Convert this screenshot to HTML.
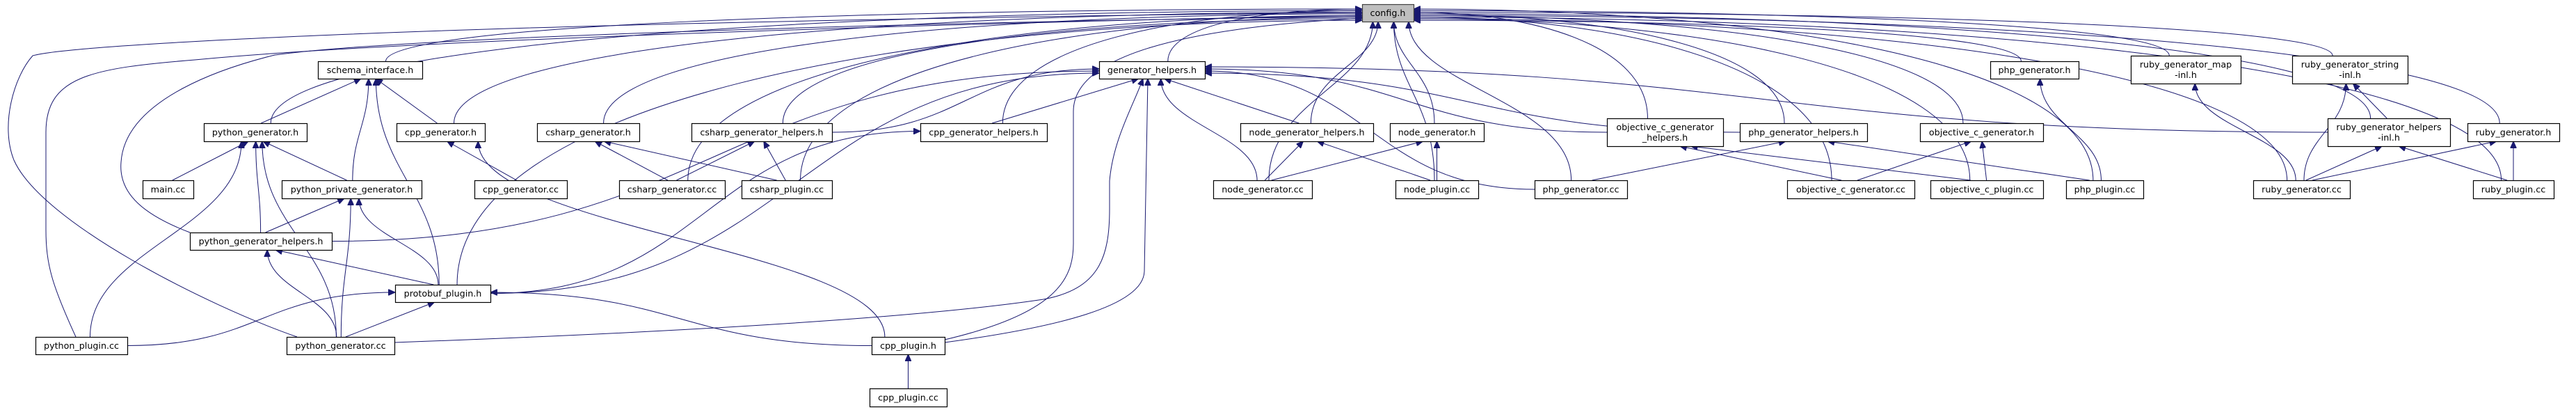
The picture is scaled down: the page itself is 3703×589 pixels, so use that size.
<!DOCTYPE html>
<html><head><meta charset="utf-8"><style>
html,body{margin:0;padding:0;background:#fff}
svg{display:block}
text{font-family:"DejaVu Sans","Liberation Sans",sans-serif;font-size:12.7px;fill:#000;text-anchor:middle}
</style></head><body>
<svg id="g" width="3703" height="589" viewBox="0 0 3703 589" xmlns="http://www.w3.org/2000/svg">
<defs><marker id="a" markerUnits="userSpaceOnUse" markerWidth="11" markerHeight="9" refX="10" refY="4.5" orient="auto"><path d="M0,0 L10,4.5 L0,9 z" fill="#191970" stroke="#191970"/></marker></defs>
<g id="edges" fill="none" stroke="#191970" stroke-width="1"></g>
<g id="boxes"></g>
<g id="labels">
<text x="1995" y="23">config.h</text>
<text x="532" y="105">schema_interface.h</text>
<text x="1656" y="105">generator_helpers.h</text>
<text x="2924.5" y="105">php_generator.h</text>
<text x="3142" y="97">ruby_generator_map</text><text x="3142" y="112">-inl.h</text>
<text x="3378" y="97">ruby_generator_string</text><text x="3378" y="112">-inl.h</text>
<text x="367" y="194.5">python_generator.h</text>
<text x="633.5" y="194.5">cpp_generator.h</text>
<text x="845.5" y="194.5">csharp_generator.h</text>
<text x="1095" y="194.5">csharp_generator_helpers.h</text>
<text x="1414" y="194.5">cpp_generator_helpers.h</text>
<text x="1878.5" y="194.5">node_generator_helpers.h</text>
<text x="2065.5" y="194.5">node_generator.h</text>
<text x="2393.5" y="187">objective_c_generator</text><text x="2393.5" y="202">_helpers.h</text>
<text x="2592.5" y="194.5">php_generator_helpers.h</text>
<text x="2848.5" y="194.5">objective_c_generator.h</text>
<text x="3434" y="187">ruby_generator_helpers</text><text x="3434" y="202">-inl.h</text>
<text x="3613" y="194.5">ruby_generator.h</text>
<text x="241.5" y="276.5">main.cc</text>
<text x="505.5" y="276.5">python_private_generator.h</text>
<text x="748.5" y="276.5">cpp_generator.cc</text>
<text x="966" y="276.5">csharp_generator.cc</text>
<text x="1131" y="276.5">csharp_plugin.cc</text>
<text x="1815" y="276.5">node_generator.cc</text>
<text x="2065.5" y="276.5">node_plugin.cc</text>
<text x="2272.5" y="276.5">php_generator.cc</text>
<text x="2660.5" y="276.5">objective_c_generator.cc</text>
<text x="2856" y="276.5">objective_c_plugin.cc</text>
<text x="3025.5" y="276.5">php_plugin.cc</text>
<text x="3308.5" y="276.5">ruby_generator.cc</text>
<text x="3613" y="276.5">ruby_plugin.cc</text>
<text x="375" y="351">python_generator_helpers.h</text>
<text x="636.5" y="426">protobuf_plugin.h</text>
<text x="117" y="501">python_plugin.cc</text>
<text x="489.5" y="501">python_generator.cc</text>
<text x="1305.5" y="501">cpp_plugin.h</text>
<text x="1305.5" y="575.5">cpp_plugin.cc</text>
</g>
</svg>
<script>
const N={config:[1958,2032,6,31],schema:[457,607,88,113],genh:[1580,1732,88,113],phpgenh:[2861,2988,88,113],
rmap:[3063,3221,80,120],rstr:[3295,3461,80,120],pygenh:[293,441,177,203],cppgenh:[570,697,177,203],
csgenh:[772,919,177,203],cshelp:[994,1196,177,203],cpphelp:[1323,1505,177,203],nodehelp:[1783,1974,177,203],
nodegenh:[1998,2133,177,203],objchelp:[2310,2477,170,210],phphelp:[2501,2684,177,203],objcgenh:[2760,2937,177,203],
rhelp:[3346,3522,170,210],rgenh:[3547,3679,177,203],main:[205,278,259,285],pypriv:[405,606,259,285],
cppgencc:[682,815,259,285],csgencc:[890,1042,259,285],csplug:[1066,1196,259,285],nodegencc:[1744,1886,259,285],
nodeplug:[2006,2125,259,285],phpgencc:[2206,2339,259,285],objcgencc:[2569,2752,259,285],objcplug:[2775,2937,259,285],
phpplug:[2970,3081,259,285],rgencc:[3239,3378,259,285],rplug:[3555,3671,259,285],pyhelp:[273,477,334,359],
protobuf:[568,705,409,434],pyplug:[51,183,484,509],pygencc:[412,567,484,509],cppplugh:[1253,1358,484,509],cppplugcc:[1250,1361,558,584]};
const NS="http://www.w3.org/2000/svg";
const eg=document.getElementById('edges'),bg=document.getElementById('boxes');
for(const k in N){const n=N[k];const r=document.createElementNS(NS,'rect');
r.setAttribute('x',n[0]+.5);r.setAttribute('y',n[2]+.5);r.setAttribute('width',n[1]-n[0]);r.setAttribute('height',n[3]-n[2]);
r.setAttribute('fill',k==='config'?'#bfbfbf':'#fff');r.setAttribute('stroke',k==='config'?'#404040':'#000');r.setAttribute('stroke-width','1.2');bg.appendChild(r);}
function P(d){const p=document.createElementNS(NS,'path');p.setAttribute('d',d);p.setAttribute('marker-end','url(#a)');eg.appendChild(p);}
const cl=(v,a,b)=>Math.max(a,Math.min(b,v));
const sideCnt={};
function E(s,t){const S=N[s],T=N[t];const sc=(S[0]+S[1])/2,tc=(T[0]+T[1])/2;
const sy0=S[2],ty0=T[3],dy=sy0-ty0;
if(Math.abs(tc-sc)>500&&Math.abs(tc-sc)>2.5*dy){
 const right=tc>sc;const sx=right?S[1]:S[0];const sy=(S[2]+S[3])/2;
 const tx=right?T[0]:T[1];sideCnt[t+right]=(sideCnt[t+right]||0)+1;
 const ty=cl((T[2]+T[3])/2+((sideCnt[t+right]%4)-1.5)*3,T[2]+4,T[3]-4);
 const m=sx+(tx-sx)*0.5;
 P(`M${sx},${sy} C${m},${sy} ${m},${ty} ${tx},${ty}`);return;}
const tx=cl(tc+(sc-tc)*0.08,T[0]+8,T[1]-8),sx=cl(sc+(tc-sc)*0.05,S[0]+8,S[1]-8);
if(dy<=100){P(`M${sx},${sy0} L${tx},${ty0}`);return;}
P(`M${sx},${sy0} C${sx},${sy0-dy*0.45} ${tx},${ty0+dy*0.45} ${tx},${ty0}`);}
let ci=0;
function C(s){const S=N[s];const sc=(S[0]+S[1])/2;const sy=S[2];
if(Math.abs(sc-1995)<330){const tx=cl(1995+(sc-1995)*0.12,1965,2025);const sx=cl(sc+(1995-sc)*0.05,S[0]+8,S[1]-8);const dy=sy-31;
P(`M${sx},${sy} C${sx},${sy-dy*0.5} ${tx},${31+dy*0.4} ${tx},31`);return;}
const left=sc<1995;const tx=left?1958:2032;const ty=13+(ci++%8)*2.3;
const sx=cl(sc+(left?0.15:-0.15)*(S[1]-S[0]),S[0]+8,S[1]-8);
P(`M${sx},${sy} C${sx},${ty+(sy-ty)*0.3} ${sx+(tx-sx)*0.5},${ty} ${tx},${ty}`);}
P('M109,484 C75,410 66,380 66,330 L66,190 C66,110 130,98 280,86 C600,55 1500,30 1958,22');
P('M427,484 C300,440 60,320 20,230 C0,180 20,110 47,80 C80,70 300,55 700,42 S1700,20 1958,18');
P('M273,334 C210,310 170,280 174,233 C180,140 330,95 395,79 C600,50 1500,28 1958,24');
P('M1358,488 C1520,450 1543,400 1543,350 L1543,160 C1543,80 1700,40 1958,26');
P('M567,492 C900,480 1300,460 1500,430 C1580,415 1595,370 1595,300 L1595,260 C1600,200 1630,150 1643,113');
P('M1358,492 C1520,470 1643,440 1645,390 L1650,113');
['schema','pygenh','cppgenh','csgenh','csgencc','csplug','cshelp','protobuf','genh','cpphelp','nodehelp','nodegenh','nodegencc','nodeplug','phpgencc','objchelp','phphelp','objcgenh','objcgencc','objcplug','phpgenh','phpplug','rmap','rstr','rhelp','rgenh','rplug','rgencc'].forEach(C);
[['pygenh','schema'],['pypriv','schema'],['cppgenh','schema'],['protobuf','schema'],
['main','pygenh'],['pypriv','pygenh'],['pyhelp','pygenh'],['pyplug','pygenh'],['pygencc','pygenh'],
['pyhelp','pypriv'],['pygencc','pypriv'],['protobuf','pypriv'],['pygencc','pyhelp'],['protobuf','pyhelp'],
['pyplug','protobuf'],['pygencc','protobuf'],['cppplugh','protobuf'],['cppgencc','cppgenh'],['cppplugh','cppgenh'],
['csgencc','csgenh'],['csplug','csgenh'],['csgencc','cshelp'],['csplug','cshelp'],
['cshelp','genh'],['cpphelp','genh'],['pyhelp','genh'],['protobuf','genh'],
['nodegencc','genh'],['nodehelp','genh'],['objchelp','genh'],['phpgencc','genh'],['phphelp','genh'],['rhelp','genh'],
['protobuf','cpphelp'],['nodegencc','nodehelp'],['nodeplug','nodehelp'],['nodegencc','nodegenh'],['nodeplug','nodegenh'],
['objcgencc','objchelp'],['objcplug','objchelp'],['phpgencc','phphelp'],['phpplug','phphelp'],
['objcgencc','objcgenh'],['objcplug','objcgenh'],['phpplug','phpgenh'],['rgencc','rmap'],['rgencc','rstr'],['rhelp','rstr'],
['rgencc','rhelp'],['rplug','rhelp'],['rgencc','rgenh'],['rplug','rgenh'],['cppplugcc','cppplugh']].forEach(e=>E(e[0],e[1]));
</script>
</body></html>
